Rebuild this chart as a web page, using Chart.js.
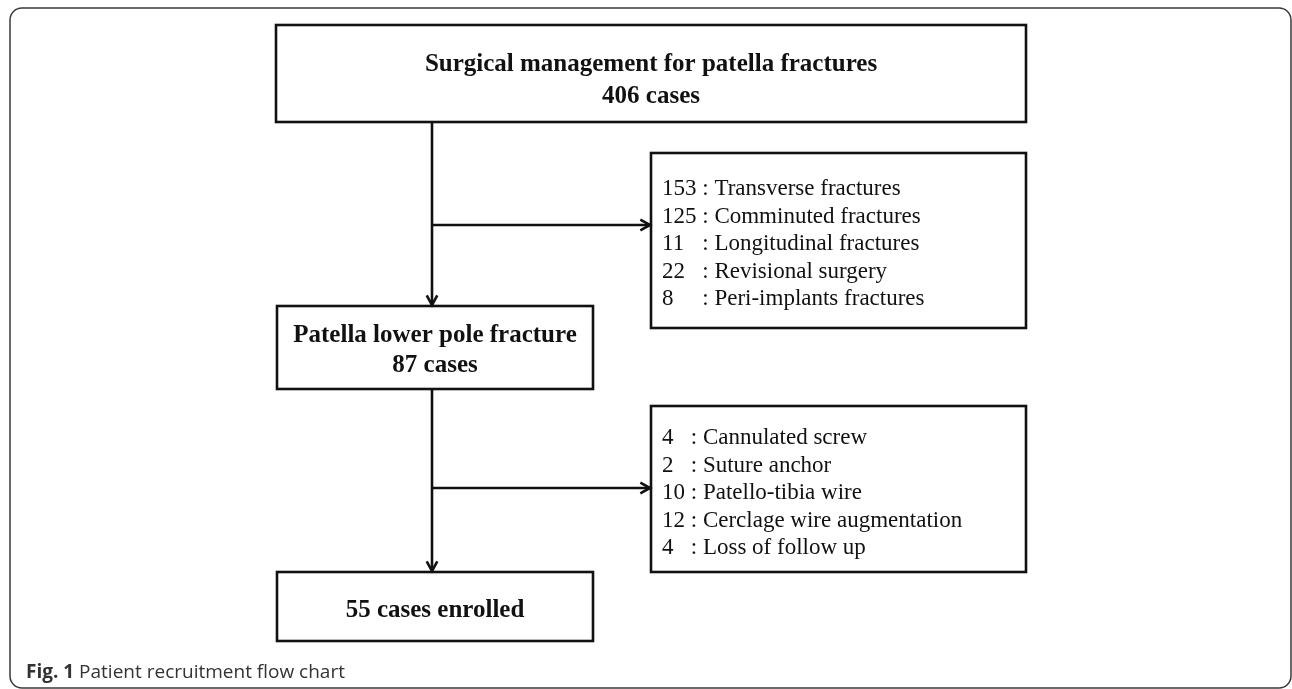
<!DOCTYPE html>
<html>
<head>
<meta charset="utf-8">
<title>Patient recruitment flow chart</title>
<script src="https://cdn.jsdelivr.net/npm/chart.js@4"></script>
<style>
  html, body { margin: 0; padding: 0; background: #fff; }
  #chart { display: block; }
</style>
</head>
<body>
<canvas id="chart" width="1292" height="689"></canvas>
<script>
// flow chart content
const stageTitles = ['Surgical management for patella fractures', 'Patella lower pole fracture', ''];
const stageCounts = [406, 87, 55];
const stageSuffix = ['cases', 'cases', 'cases enrolled'];

const excluded1Counts = [153, 125, 11, 22, 8];
const excluded1Labels = ['Transverse fractures', 'Comminuted fractures', 'Longitudinal fractures', 'Revisional surgery', 'Peri-implants fractures'];

const excluded2Counts = [4, 2, 10, 12, 4];
const excluded2Labels = ['Cannulated screw', 'Suture anchor', 'Patello-tibia wire', 'Cerclage wire augmentation', 'Loss of follow up'];

const captionBold = 'Fig. 1';
const captionText = 'Patient recruitment flow chart';

// layout, in axis units (x 0..1292, y 0..689 from top)
const stageBoxes = [
    { x0: 276, x1: 1026, y0: 25, y1: 122, lines: [71, 103] },
    { x0: 277, x1: 593, y0: 306, y1: 389, lines: [342, 372] },
    { x0: 277, x1: 593, y0: 572, y1: 641, lines: [617] }
];
const sideBoxes = [
    { x0: 651, x1: 1026, y0: 153, y1: 328, first: 195, step: 27.5, branchY: 225 },
    { x0: 651, x1: 1026, y0: 406, y1: 572, first: 444, step: 27.5, branchY: 488 }
];
const trunkX = 432;

const flowPlugin = {
    id: 'flow',
    afterDraw(chart) {
        const ctx = chart.ctx;
        const sx = chart.scales.x, sy = chart.scales.y;
        const px = v => sx.getPixelForValue(v);
        const py = v => sy.getPixelForValue(v);

        ctx.save();

        // outer frame
        ctx.strokeStyle = '#3a3a3a';
        ctx.lineWidth = 1.5;
        ctx.beginPath();
        ctx.roundRect(px(10), py(8), px(1291) - px(10), py(688) - py(8), 12);
        ctx.stroke();

        ctx.strokeStyle = '#111';
        ctx.fillStyle = '#111';
        ctx.lineWidth = 2.6;

        // main boxes
        stageBoxes.forEach((b, i) => {
            ctx.strokeRect(px(b.x0), py(b.y0), px(b.x1) - px(b.x0), py(b.y1) - py(b.y0));
            const cx = px((b.x0 + b.x1) / 2);
            const countLine = stageCounts[i] + ' ' + stageSuffix[i];
            const texts = stageTitles[i] ? [stageTitles[i], countLine] : [countLine];
            ctx.font = 'bold 25px "Liberation Serif", "Times New Roman", serif';
            ctx.textAlign = 'center';
            ctx.textBaseline = 'alphabetic';
            texts.forEach((t, k) => ctx.fillText(t, cx, py(b.lines[k])));
        });

        // side boxes
        const lists = [[excluded1Counts, excluded1Labels], [excluded2Counts, excluded2Labels]];
        sideBoxes.forEach((b, i) => {
            ctx.strokeRect(px(b.x0), py(b.y0), px(b.x1) - px(b.x0), py(b.y1) - py(b.y0));
            const counts = lists[i][0], labels = lists[i][1];
            ctx.font = '23px "Liberation Serif", "Times New Roman", serif';
            ctx.textAlign = 'left';
            const numX = px(b.x0 + 11);
            const widest = Math.max(...counts.map(c => ctx.measureText(String(c)).width));
            const colonX = numX + widest + ctx.measureText(' ').width;
            const labelX = colonX + ctx.measureText(': ').width;
            counts.forEach((c, k) => {
                const y = py(b.first + b.step * k);
                ctx.fillText(String(c), numX, y);
                ctx.fillText(':', colonX, y);
                ctx.fillText(labels[k], labelX, y);
            });
        });

        // arrows
        const arrow = (x0, y0, x1, y1) => {
            ctx.beginPath();
            ctx.moveTo(px(x0), py(y0));
            ctx.lineTo(px(x1), py(y1));
            ctx.stroke();
            const a = Math.atan2(py(y1) - py(y0), px(x1) - px(x0));
            const len = 11, spread = 0.5;
            ctx.beginPath();
            ctx.moveTo(px(x1) - len * Math.cos(a - spread), py(y1) - len * Math.sin(a - spread));
            ctx.lineTo(px(x1), py(y1));
            ctx.lineTo(px(x1) - len * Math.cos(a + spread), py(y1) - len * Math.sin(a + spread));
            ctx.stroke();
        };
        arrow(trunkX, stageBoxes[0].y1, trunkX, stageBoxes[1].y0 - 1);
        arrow(trunkX, sideBoxes[0].branchY, sideBoxes[0].x0 - 1, sideBoxes[0].branchY);
        arrow(trunkX, stageBoxes[1].y1, trunkX, stageBoxes[2].y0 - 1);
        arrow(trunkX, sideBoxes[1].branchY, sideBoxes[1].x0 - 1, sideBoxes[1].branchY);

        // caption
        ctx.textAlign = 'left';
        ctx.fillStyle = '#333';
        ctx.font = 'bold 19px "Open Sans", sans-serif';
        ctx.fillText(captionBold, px(26), py(678));
        const w = ctx.measureText(captionBold + ' ').width;
        ctx.font = '19px "Open Sans", sans-serif';
        ctx.fillText(captionText, px(26) + w, py(678));

        ctx.restore();
    }
};

new Chart(document.getElementById('chart'), {
    type: 'scatter',
    data: {
        datasets: [{
            label: 'stages',
            data: stageBoxes.map(b => ({ x: (b.x0 + b.x1) / 2, y: (b.y0 + b.y1) / 2 })),
            pointRadius: 0
        }]
    },
    options: {
        responsive: false,
        animation: false,
        devicePixelRatio: 1,
        layout: { padding: 0 },
        plugins: { legend: { display: false }, tooltip: { enabled: false } },
        scales: {
            x: { type: 'linear', min: 0, max: 1292, display: false },
            y: { type: 'linear', min: 0, max: 689, reverse: true, display: false }
        }
    },
    plugins: [flowPlugin]
});
</script>
</body>
</html>
